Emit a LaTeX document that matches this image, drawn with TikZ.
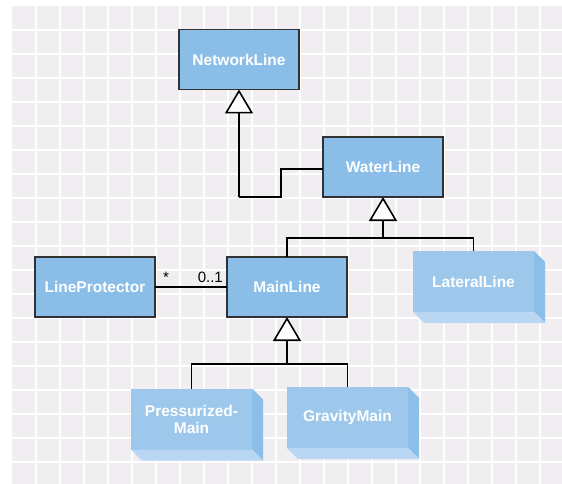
\documentclass[tikz,border=0pt]{standalone}
\usepackage{fontspec}
\setmainfont{Liberation Sans}
\usetikzlibrary{arrows.meta}
\definecolor{bggrey}{RGB}{240,238,241}
\definecolor{classblue}{RGB}{138,190,232}
\definecolor{frontblue}{RGB}{157,200,235}
\definecolor{sideblue}{RGB}{139,190,232}
\definecolor{botblue}{RGB}{185,215,242}
\definecolor{outline}{RGB}{50,50,50}
\tikzset{
  classbox/.style={draw=outline, line width=1.3bp, fill=classblue, minimum width=120bp, minimum height=60bp, inner sep=0pt, outer sep=0pt, text=white, font=\fontsize{15.5bp}{17bp}\selectfont\bfseries, align=center},
  solidbox/.style={draw=none, fill=frontblue, minimum width=121bp, minimum height=61bp, inner sep=0pt, outer sep=0pt, text=white, font=\fontsize{15.5bp}{17bp}\selectfont\bfseries, align=center},
  conn/.style={line width=1.8bp, black},
  genarrow/.style={conn, -{Triangle[length=24bp, width=28bp, fill=white, line width=1.6bp]}},
  mult/.style={font=\fontsize{15bp}{17bp}\selectfont, inner sep=0pt}
}
\newcommand\depthfaces[1]{%
  \fill[sideblue] (#1.north east) -- ++(11,11) -- ([shift={(11,11)}]#1.south east) -- (#1.south east) -- cycle;
  \fill[botblue] (#1.south west) -- (#1.south east) -- ++(11,11) -- ([shift={(11,11)}]#1.south west) -- cycle;}
\begin{document}
\begin{tikzpicture}[x=1bp, y=-1bp]
\useasboundingbox (0,0) rectangle (562,484);
% background grid
\fill[bggrey] (12,6) rectangle (562,484);
\foreach \gx in {36,60,...,540} \draw[white, line width=2bp] (\gx,6) -- (\gx,484);
\foreach \gy in {30,54,...,462} \draw[white, line width=2bp] (12,\gy) -- (562,\gy);
% class boxes
\node[classbox] (nl) at (239,59.5) {NetworkLine};
\node[classbox] (wl) at (383,167) {WaterLine};
\node[classbox] (lp) at (95,287) {LineProtector};
\node[classbox] (ml) at (287,287) {MainLine};
% solid (3D) boxes
\node[solidbox] (ll) at (473.5,281.5) {LateralLine};
\depthfaces{ll}
\node[solidbox] (pm) at (191.5,419) {Pressurized-\\Main};
\depthfaces{pm}
\node[solidbox] (gm) at (347.5,417.5) {GravityMain};
\depthfaces{gm}
% junctions
\coordinate (b1) at (281,169);
\coordinate (b2) at (281,197);
\coordinate (b3) at (239,197);
\coordinate (j2) at (383,238);
\coordinate (j1) at (287,364);
% connectors
\draw[conn] (wl.west |- b1) -- (b1) -- (b2) -- (b3);
\draw[genarrow] (b3) -- (nl.south);
\draw[conn] (ml.north) |- (j2) -| (ll.north);
\draw[genarrow] (j2) -- (wl.south);
\draw[conn] (pm.north) |- (j1) -| (gm.north);
\draw[genarrow] (j1) -- (ml.south);
\draw[conn] (lp.east) -- (ml.west);
\node[mult] (m1) at (166,277) {*};
\node[mult, anchor=east] (m2) at (223,277) {0..1};
\end{tikzpicture}
\end{document}
